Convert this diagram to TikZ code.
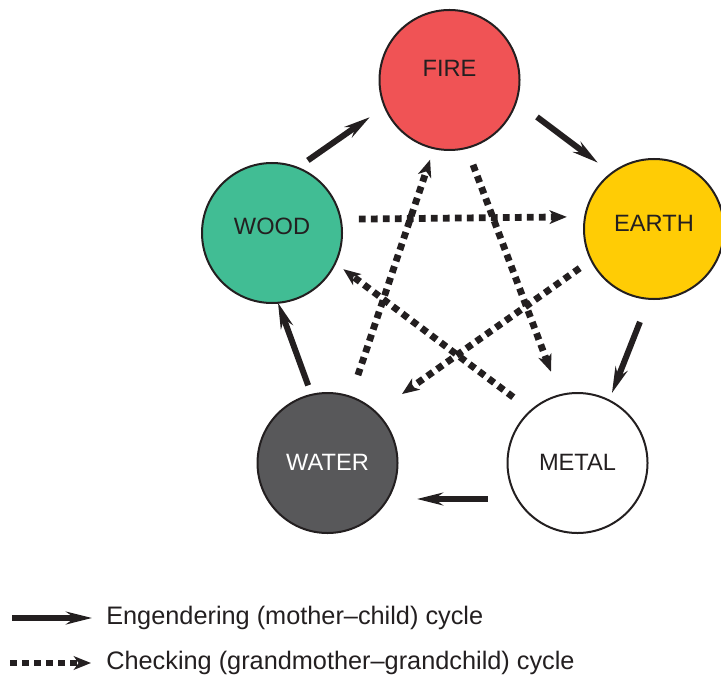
\documentclass[tikz,border=0pt]{standalone}
\usepackage{fontspec}
\setmainfont{Liberation Sans}
\usepackage{tikz}
\usetikzlibrary{arrows.meta,calc}
\definecolor{ink}{HTML}{231F20}
\definecolor{firered}{HTML}{F05355}
\definecolor{woodgreen}{HTML}{41BD94}
\definecolor{earthyellow}{HTML}{FFCC05}
\definecolor{watergray}{HTML}{58585A}

\begin{document}
\begin{tikzpicture}[x=0.25mm, y=0.25mm, every node/.style={font=\fontsize{16.8}{20}\selectfont, text=ink}, elem/.style={draw=ink, line width=0.5mm, circle, minimum size=35mm, inner sep=0pt}, legend/.style={anchor=west, inner sep=0pt, font=\fontsize{18}{22}\selectfont}, eng/.style={draw=ink, line width=1.5mm, -{Stealth[length=6.5mm, width=3.2mm, inset=2.2mm]}}, chk/.style={draw=ink, line width=1.7mm, dash pattern=on 1.7mm off 1.3mm, -{Stealth[length=4.3mm, width=3.4mm, inset=1.2mm]}}]
	\useasboundingbox (0,0) rectangle (721,674);
	\node[elem, fill=firered] (F) at (449.5,594) {};
	\node[elem, fill=woodgreen] (Wd) at (272,441) {};
	\node[elem, fill=earthyellow] (E) at (654,445) {};
	\node[elem, fill=watergray] (Wt) at (327.5,211) {};
	\node[elem, fill=white] (M) at (577.5,211) {};
	\node (FText) at ($(F)+(0,12)$) {FIRE};
	\node (WdText) at ($(Wd)+(0,7)$) {WOOD};
	\node (EText) at ($(E)+(0,6)$) {EARTH};
	\node[text=white] (WtText) at ($(Wt)+(0,1)$) {WATER};
	\node (MText) at ($(M)+(0,1)$) {METAL};
	\draw[eng] ($(Wd)+(63.7:81)$) -- ($(F)+(205:88)$);
	\draw[eng] ($(F)+(-22.9:95)$) -- ($(E)+(130.3:87)$);
	\draw[eng] ($(E)+(261.4:94)$) -- ($(M)+(63.8:78)$);
	\draw[eng] ($(M)+(201.9:96.5)$) -- ($(Wt)+(338.1:96.5)$);
	\draw[eng] ($(Wt)+(104:80)$) -- ($(Wd)+(274.9:70)$);
	\draw[chk] ($(Wd)+(9.1:88)$) -- ($(E)+(172.1:88)$);
	\draw[chk] ($(F)+(285.5:88)$) -- ($(M)+(106.2:95)$);
	\draw[chk] ($(E)+(207.8:84)$) -- ($(Wt)+(42.8:101.5)$);
	\draw[chk] ($(M)+(134.3:92)$) -- ($(Wd)+(333.1:80)$);
	\draw[chk] ($(Wt)+(70.9:93)$) -- ($(F)+(256.3:82)$);
	\coordinate (engA) at (12,56);
	\coordinate (engB) at (92,56);
	\coordinate (chkA) at (10,11);
	\coordinate (chkB) at (91,11);
	\draw[eng] (engA) -- (engB);
	\draw[chk] (chkA) -- (chkB);
	\node[legend] (engText) at (106,56) {Engendering (mother–child) cycle};
	\node[legend] (chkText) at (106,11) {Checking (grandmother–grandchild) cycle};
\end{tikzpicture}
\end{document}
